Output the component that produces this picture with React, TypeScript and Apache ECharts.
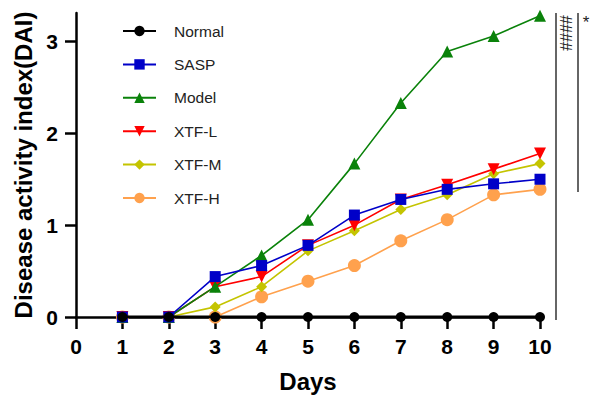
import React, { useEffect, useRef } from "react";
import * as echarts from "echarts";

const days = [1, 2, 3, 4, 5, 6, 7, 8, 9, 10];
const normal = [0, 0, 0, 0, 0, 0, 0, 0, 0, 0];
const sasp = [0, 0, 0.44, 0.56, 0.78, 1.11, 1.28, 1.39, 1.45, 1.5];
const model = [0, 0, 0.33, 0.67, 1.06, 1.67, 2.33, 2.89, 3.06, 3.28];
const xtfL = [0, 0, 0.33, 0.44, 0.78, 1.0, 1.28, 1.44, 1.61, 1.78];
const xtfM = [0, 0, 0.11, 0.33, 0.72, 0.94, 1.17, 1.33, 1.56, 1.67];
const xtfH = [0, 0, 0, 0.22, 0.39, 0.56, 0.83, 1.06, 1.33, 1.39];
const xTicks = [0, 1, 2, 3, 4, 5, 6, 7, 8, 9, 10];
const yTicks = [0, 1, 2, 3];

const FONT = "'Liberation Sans', Arial, sans-serif";

export default function App() {
  const ref = useRef<HTMLDivElement>(null);
  useEffect(() => {
    const chart = echarts.init(ref.current!, null, { renderer: "svg" });
    const pts = (v: number[]) => days.map((d, i) => [d, v[i]]);
    const mk = (name: string, v: number[], color: string, symbol: string, size: number, extra: any = {}) => ({
      name,
      type: "line",
      data: pts(v),
      symbol,
      symbolSize: size,
      lineStyle: { color, width: 1.6 },
      itemStyle: { color },
      ...extra,
    });
    const series = [
      mk("XTF-H", xtfH, "#ffa14d", "circle", 13, { z: 2 }),
      mk("XTF-M", xtfM, "#c4c400", "diamond", 11, { z: 3 }),
      mk("XTF-L", xtfL, "#ff0000", "triangle", 12, { symbolRotate: 180, z: 4 }),
      mk("Model", model, "#0a820a", "triangle", 12, { z: 5 }),
      mk("SASP", sasp, "#0000c8", "rect", 11, { z: 6 }),
      mk("Normal", normal, "#000000", "circle", 10, { z: 7, lineStyle: { color: "#000", width: 3 } }),
    ];
    chart.setOption({
      animation: false,
      backgroundColor: "#fff",
      grid: { left: 76, right: 52, top: 13, bottom: 80 },
      legend: {
        orient: "vertical",
        left: 117,
        top: 18,
        itemWidth: 33,
        itemHeight: 13,
        itemGap: 17.4,
        data: ["Normal", "SASP", "Model", "XTF-L", "XTF-M", "XTF-H"],
        textStyle: { fontFamily: FONT, fontSize: 15.5, color: "#222", padding: [0, 0, 0, 13] },
      },
      xAxis: {
        type: "value",
        min: 0,
        max: 10,
        interval: 1,
        name: "Days",
        nameLocation: "middle",
        nameGap: 52,
        nameTextStyle: { fontFamily: FONT, fontSize: 24, fontWeight: "bold", color: "#000" },
        axisLine: { show: true, onZero: false, lineStyle: { color: "#000", width: 2.5 } },
        axisTick: { show: true, length: 12, lineStyle: { color: "#000", width: 2.5 }, customValues: xTicks },
        axisLabel: { margin: 19, fontFamily: FONT, fontSize: 21, fontWeight: "bold", color: "#000", customValues: xTicks },
        splitLine: { show: false },
      },
      yAxis: {
        type: "value",
        min: 0,
        max: 3.31,
        name: "Disease activity index(DAI)",
        nameLocation: "middle",
        nameGap: 36,
        nameTextStyle: { fontFamily: FONT, fontSize: 24, fontWeight: "bold", color: "#000" },
        axisLine: { show: true, onZero: false, lineStyle: { color: "#000", width: 2.5 } },
        axisTick: { show: true, length: 11, lineStyle: { color: "#000", width: 2.5 }, customValues: yTicks },
        axisLabel: { margin: 18, fontFamily: FONT, fontSize: 21, fontWeight: "bold", color: "#000", customValues: yTicks },
        splitLine: { show: false },
      },
      series,
      graphic: [
        { type: "line", shape: { x1: 556, y1: 13, x2: 556, y2: 320 }, style: { stroke: "#333", lineWidth: 1.5 } },
        { type: "line", shape: { x1: 578, y1: 13, x2: 578, y2: 192 }, style: { stroke: "#333", lineWidth: 1.5 } },
        {
          type: "text",
          x: 565,
          y: 33,
          rotation: -Math.PI / 2,
          style: { text: "####", fontFamily: FONT, fontSize: 16, fill: "#222", align: "center", verticalAlign: "middle" },
        },
        {
          type: "text",
          x: 586,
          y: 22,
          style: { text: "*", fontFamily: FONT, fontSize: 17, fill: "#222", align: "center", verticalAlign: "middle" },
        },
      ],
    });
    return () => chart.dispose();
  }, []);
  return <div ref={ref} style={{ position: "absolute", left: 0, top: 0, width: 592, height: 398 }} />;
}
